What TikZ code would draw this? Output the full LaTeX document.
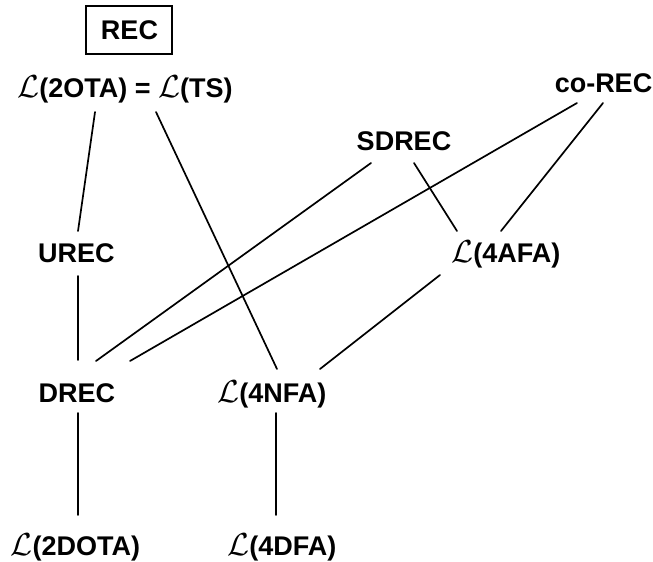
\documentclass[tikz,border=0pt]{standalone}
\usepackage{fontspec}
\usepackage{graphicx}
\setmainfont{Liberation Sans}
\newcommand{\LL}{\scalebox{1.28}{$\mathcal{L}$}}
\begin{document}
\begin{tikzpicture}[x=1pt,y=-1pt,
  lbl/.style={font=\fontsize{27}{30}\selectfont\bfseries,anchor=base,inner sep=0pt},
  conn/.style={line width=1.7pt,line cap=round}]
\useasboundingbox (0,0) rectangle (653,562);
% nodes
\node[lbl] (rec) at (129.5,39) {REC};
\draw[line width=2pt] (86,6) rectangle (172,54);
\node[lbl] (ts) at (125,97) {\LL(2OTA) = \LL(TS)};
\node[lbl] (corec) at (603.5,92) {co-REC};
\node[lbl] (sdrec) at (404,150) {SDREC};
\node[lbl] (urec) at (76.5,262) {UREC};
\node[lbl] (afa) at (506,262) {\LL(4AFA)};
\node[lbl] (drec) at (77,402) {DREC};
\node[lbl] (nfa) at (272,402) {\LL(4NFA)};
\node[lbl] (dota) at (75.5,555) {\LL(2DOTA)};
\node[lbl] (dfa) at (282,555) {\LL(4DFA)};
% connector ends
\coordinate (ts-u) at (95,112);
\coordinate (u-ts) at (78,231);
\coordinate (ts-n) at (156,112);
\coordinate (n-ts) at (277,369);
\coordinate (u-d) at (78,276);
\coordinate (d-u) at (78,360);
\coordinate (d-s) at (96,361);
\coordinate (s-d) at (371,163);
\coordinate (d-c) at (130,361);
\coordinate (c-d) at (577,103);
\coordinate (s-a) at (414,163);
\coordinate (a-s) at (457,231);
\coordinate (c-a) at (603,103);
\coordinate (a-c) at (501,231);
\coordinate (a-n) at (440,275);
\coordinate (n-a) at (320,369);
\coordinate (d-o) at (78,413);
\coordinate (o-d) at (78,515);
\coordinate (n-f) at (276,413);
\coordinate (f-n) at (276,515);
% connectors
\draw[conn] (ts-u) -- (u-ts);
\draw[conn] (ts-n) -- (n-ts);
\draw[conn] (u-d) -- (d-u);
\draw[conn] (d-s) -- (s-d);
\draw[conn] (d-c) -- (c-d);
\draw[conn] (s-a) -- (a-s);
\draw[conn] (c-a) -- (a-c);
\draw[conn] (a-n) -- (n-a);
\draw[conn] (d-o) -- (o-d);
\draw[conn] (n-f) -- (f-n);
\end{tikzpicture}
\end{document}
